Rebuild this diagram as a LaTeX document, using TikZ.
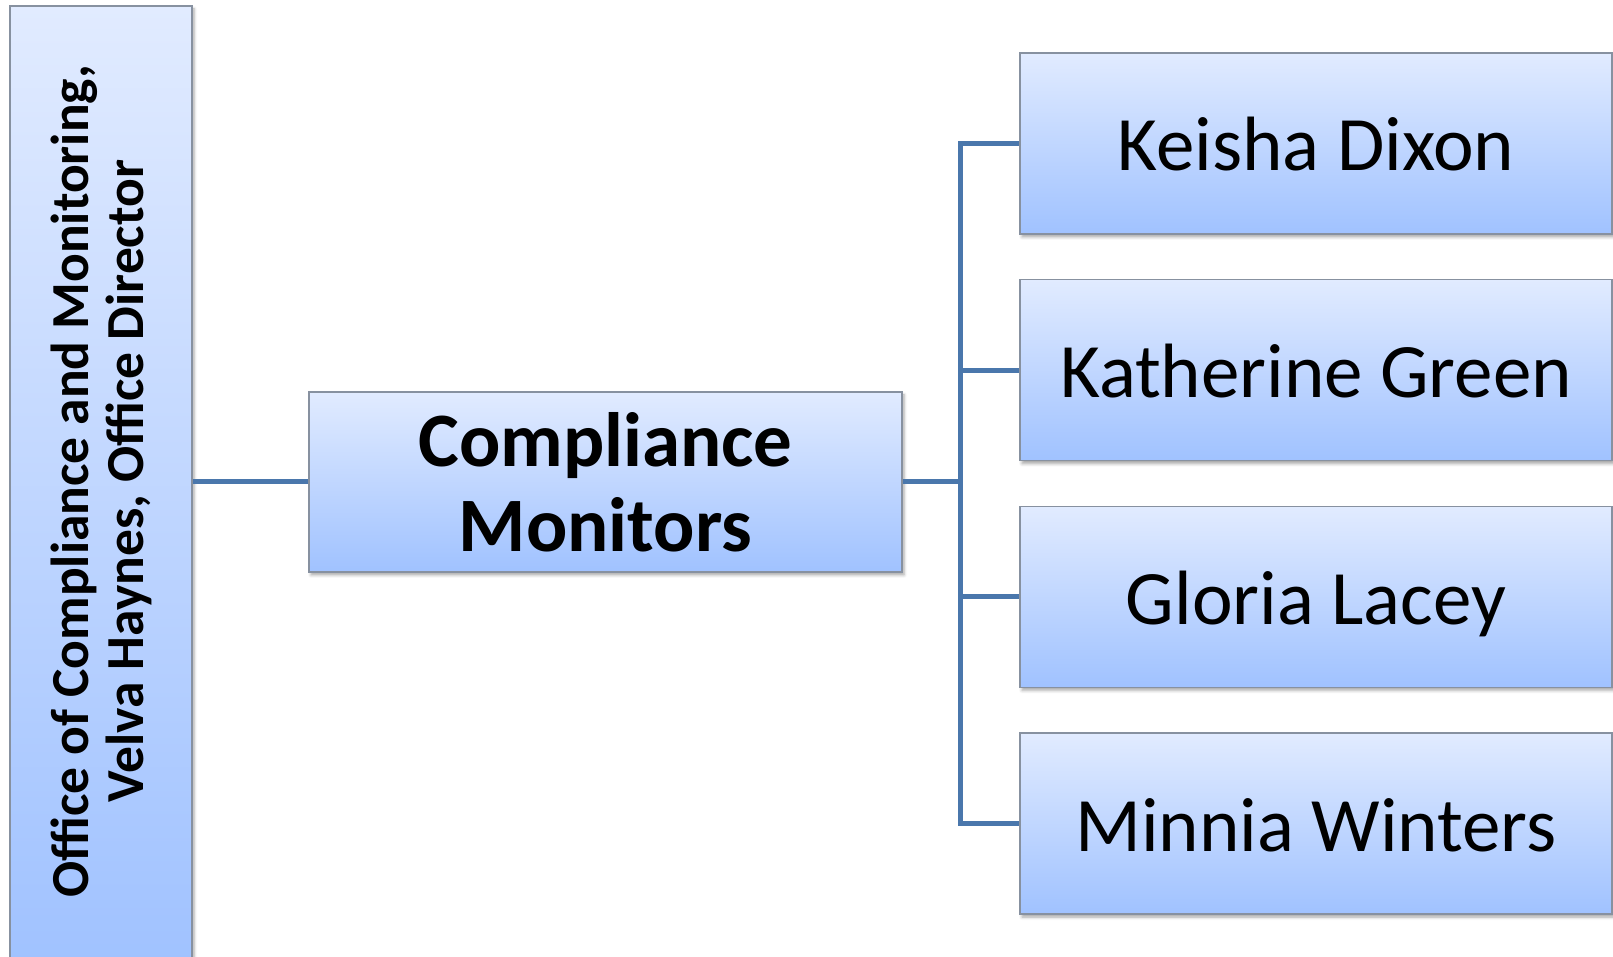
\documentclass[tikz,border=0pt]{standalone}
\usepackage{fontspec}
\setmainfont{Carlito}
\usetikzlibrary{positioning, shadows.blur, calc}

\definecolor{boxtop}{RGB}{225,235,255}
\definecolor{boxbot}{RGB}{160,194,255}
\definecolor{boxline}{RGB}{135,145,160}
\definecolor{linkblue}{RGB}{74,119,172}

\begin{document}
\begin{tikzpicture}[
    x=1pt, y=1pt,
    node distance=44.5pt and 118pt,
    block/.style={rectangle, draw=boxline, line width=1.2pt, top color=boxtop, bottom color=boxbot, inner sep=0pt,
        blur shadow={shadow xshift=2pt, shadow yshift=-3pt, shadow blur radius=3pt, shadow opacity=35}},
    person/.style={block, minimum width=592pt, minimum height=181pt, font=\fontsize{77}{92}\selectfont, text height=64pt, text depth=9pt},
    link/.style={draw=linkblue, line width=5pt}
]
\clip (0,0) rectangle (1613,957);

% Nodes
\node [block, minimum width=182pt, minimum height=960pt] (office) at (101,471) {};
\node [rotate=90, align=center, font=\bfseries\fontsize{53.5}{55}\selectfont] (office-text) at (101,476) {Office of Compliance and Monitoring,\\Velva Haynes, Office Director};
\node [block, minimum width=593pt, minimum height=180pt, align=center, font=\bfseries\fontsize{77}{85}\selectfont] (monitors) at (605.5,475) {Compliance\\Monitors};
\node [person] (keisha) at (1316,813.5) {Keisha Dixon};
\node [person, below=of keisha] (katherine) {Katherine Green};
\node [person, below=of katherine] (gloria) {Gloria Lacey};
\node [person, below=of gloria] (minnia) {Minnia Winters};
\coordinate [right=58pt of monitors] (bus);

% Lines
\draw[link] (office.east |- monitors.west) -- (monitors.west);
\draw[link] (monitors.east) -- (bus);
\foreach \who in {keisha, katherine, gloria, minnia}
    \draw[link] (bus) |- (\who.west);
\end{tikzpicture}
\end{document}
